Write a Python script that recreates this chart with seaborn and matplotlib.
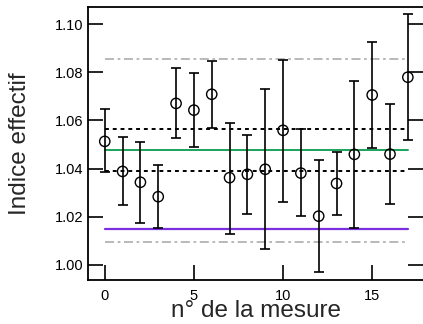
import numpy as np
import pandas as pd
import matplotlib
matplotlib.use("Agg")
import matplotlib.pyplot as plt
import seaborn as sns

# data
mesure = list(range(18))
indice = [1.0513, 1.0388, 1.0343, 1.0283, 1.0671, 1.0643, 1.0709, 1.0362, 1.0376,
          1.0397, 1.0559, 1.0381, 1.0202, 1.0338, 1.0459, 1.0706, 1.0460, 1.0780]
err_haut = [1.0647, 1.0530, 1.0510, 1.0416, 1.0817, 1.0798, 1.0847, 1.0590, 1.0541,
            1.0729, 1.0852, 1.0563, 1.0435, 1.0470, 1.0765, 1.0927, 1.0668, 1.1041]
err_bas = [1.0385, 1.0250, 1.0173, 1.0153, 1.0526, 1.0489, 1.0570, 1.0129, 1.0211,
           1.0064, 1.0261, 1.0201, 0.9970, 1.0208, 1.0154, 1.0484, 1.0254, 1.0518]
moyenne = 1.0477
ecart_haut, ecart_bas = 1.0566, 1.0390
gris_haut, gris_bas = 1.0857, 1.0094
violet = 1.0150
yticks = [1.00, 1.02, 1.04, 1.06, 1.08, 1.10]
xticks = [0, 5, 10, 15]

df = pd.DataFrame({"mesure": mesure, "indice": indice})

sns.set_theme(style="ticks")
plt.rcParams['font.family'] = ['Liberation Sans', 'DejaVu Sans']

fig = plt.figure(figsize=(4.23, 3.24), dpi=100)
ax = fig.add_axes([88/423, 1 - 280/324, (423 - 88)/423, (280 - 7)/324])

x0, x1 = mesure[0], mesure[-1]
ax.plot([x0, x1], [gris_haut, gris_haut], color='#b3b3b3', lw=1.3, ls=(0, (5, 2, 1.5, 2)), zorder=1)
ax.plot([x0, x1], [gris_bas, gris_bas], color='#b3b3b3', lw=1.3, ls=(0, (5, 2, 1.5, 2)), zorder=1)
ax.plot([x0, x1], [ecart_haut, ecart_haut], color='black', lw=1.4, ls=(0, (2, 2)), zorder=1)
ax.plot([x0, x1], [ecart_bas, ecart_bas], color='black', lw=1.4, ls=(0, (2, 2)), zorder=1)
ax.plot([x0, x1], [moyenne, moyenne], color='#1aa35a', lw=1.4, zorder=1)
ax.plot([x0, x1], [violet, violet], color='#7d2ee0', lw=1.6, zorder=1)

ind = np.array(indice)
yerr = [ind - np.array(err_bas), np.array(err_haut) - ind]
ax.errorbar(mesure, indice, yerr=yerr, fmt='none', ecolor='black', elinewidth=1.2,
            capsize=3.4, capthick=1.2, zorder=2)
sns.scatterplot(data=df, x="mesure", y="indice", ax=ax, marker='o', s=55,
                facecolor='none', edgecolor='black', linewidth=1.0, zorder=3)

ax.set_xlim(-0.94, 17.85)
ax.set_ylim(0.99364, 1.1072)
ax.set_xticks(xticks)
ax.set_yticks(yticks)
ax.set_yticklabels([f"{v:.2f}" for v in yticks])
ax.tick_params(axis='both', direction='in', length=11, width=1.2, labelsize=10.5, colors='black')
ax.tick_params(axis='y', right=True, left=True)
ax.tick_params(axis='x', pad=6.5)
for side in ['left', 'top', 'bottom']:
    ax.spines[side].set_visible(True)
    ax.spines[side].set_linewidth(1.3)
    ax.spines[side].set_color('black')
ax.spines['right'].set_visible(False)
ax.set_xlabel("n° de la mesure", fontsize=17.5, labelpad=-2.5)
ax.set_ylabel("Indice effectif", fontsize=17.5, labelpad=17)

fig.savefig("out.png", dpi=100)
